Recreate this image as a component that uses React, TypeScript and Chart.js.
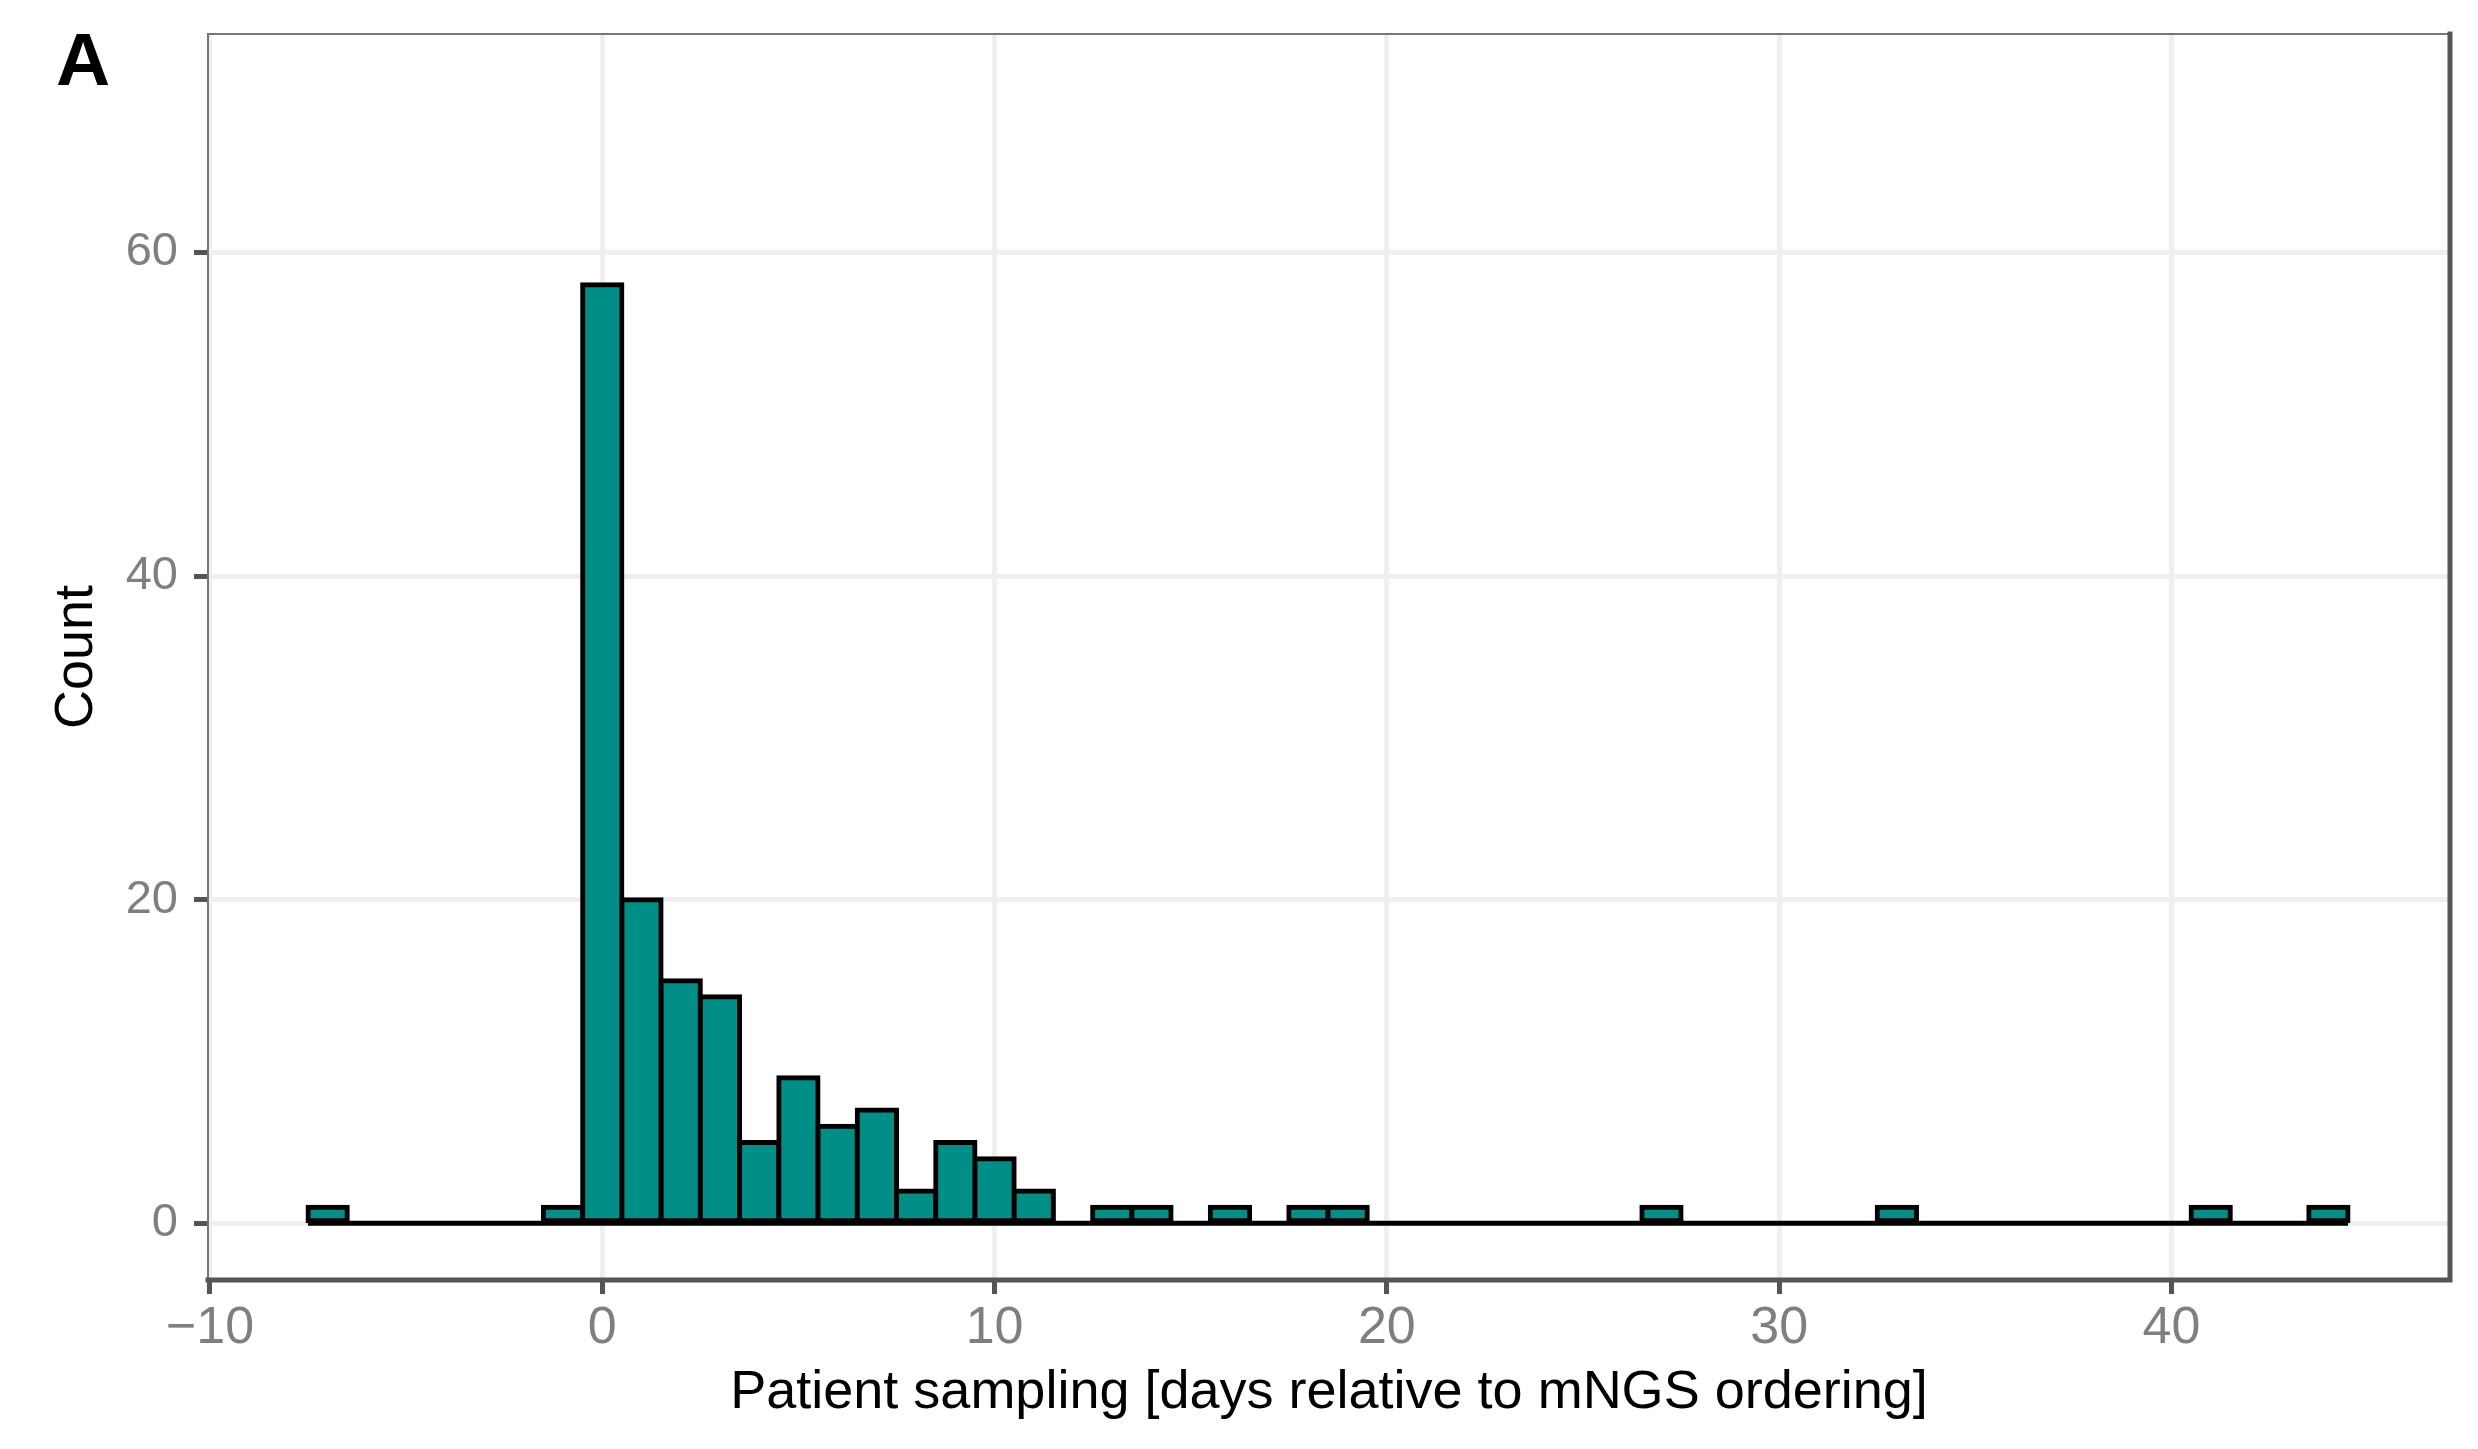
import React, { useEffect, useRef } from 'react';
import { Chart, registerables } from 'chart.js';

Chart.register(...registerables);

// Histogram bins (days relative to mNGS ordering), bin width 1 day
const binCenters = [
  -7, -6, -5, -4, -3, -2, -1, 0, 1, 2, 3, 4, 5, 6, 7, 8, 9, 10, 11, 12, 13, 14, 15, 16, 17, 18, 19,
  20, 21, 22, 23, 24, 25, 26, 27, 28, 29, 30, 31, 32, 33, 34, 35, 36, 37, 38, 39, 40, 41, 42, 43, 44,
];
const counts = [
  1, 0, 0, 0, 0, 0, 1, 58, 20, 15, 14, 5, 9, 6, 7, 2, 5, 4, 2, 0, 1, 1, 0, 1, 0, 1, 1,
  0, 0, 0, 0, 0, 0, 0, 1, 0, 0, 0, 0, 0, 1, 0, 0, 0, 0, 0, 0, 0, 1, 0, 0, 1,
];
const binWidth = 1;
const xTicks = [-10, 0, 10, 20, 30, 40];
const yTicks = [0, 20, 40, 60];
const xLimits = [-10.05, 47.1];
const yLimits = [-3.5, 73.5];

const xTitle = 'Patient sampling [days relative to mNGS ordering]';
const yTitle = 'Count';
const panelTag = 'A';

const FONT = '"Liberation Sans", Arial, Helvetica, sans-serif';
const W = 2478;
const H = 1449;
const PANEL_LEFT = 208;
const PANEL_RIGHT = 2450;
const PANEL_TOP = 34;
const PANEL_BOTTOM = 1280;
const FILL = '#008E87';
const OUTLINE = '#000000';

const panelPlugin = {
  id: 'panelDecor',
  afterDatasetsDraw(chart: any) {
    const { ctx, chartArea } = chart;
    const { left, right, top, bottom } = chartArea;
    ctx.save();
    // thin grey top / left border
    ctx.strokeStyle = '#777777';
    ctx.lineWidth = 2;
    ctx.beginPath();
    ctx.moveTo(left, bottom);
    ctx.lineTo(left, top);
    ctx.lineTo(right, top);
    ctx.stroke();
    // thick dark bottom / right border
    ctx.strokeStyle = '#555555';
    ctx.lineWidth = 5;
    ctx.lineCap = 'square';
    ctx.beginPath();
    ctx.moveTo(left, bottom);
    ctx.lineTo(right, bottom);
    ctx.lineTo(right, top);
    ctx.stroke();
    ctx.restore();
  },
  afterDraw(chart: any) {
    const { ctx } = chart;
    ctx.save();
    ctx.fillStyle = '#000000';
    ctx.font = `bold 75px ${FONT}`;
    ctx.textAlign = 'left';
    ctx.textBaseline = 'alphabetic';
    ctx.fillText(panelTag, 56, 85);
    ctx.restore();
  },
};

export default function App() {
  const canvasRef = useRef<HTMLCanvasElement | null>(null);

  useEffect(() => {
    const canvas = canvasRef.current;
    if (!canvas) return;
    const barData = binCenters.map((x, i) => ({ x, y: counts[i] }));
    const baseline = [
      { x: binCenters[0] - binWidth / 2, y: 0 },
      { x: binCenters[binCenters.length - 1] + binWidth / 2, y: 0 },
    ];
    const strokeW = 5;

    const chart = new Chart(canvas, {
      type: 'bar',
      data: {
        datasets: [
          {
            type: 'bar',
            data: barData as any,
            backgroundColor: (c: any) => (c.raw && c.raw.y === 0 ? OUTLINE : FILL),
            borderColor: OUTLINE,
            borderWidth: strokeW,
            borderSkipped: false,
            inflateAmount: strokeW / 2,
            barPercentage: 1,
            categoryPercentage: 1,
            order: 1,
          } as any,
          {
            type: 'line',
            data: baseline as any,
            borderColor: OUTLINE,
            borderWidth: strokeW,
            pointRadius: 0,
            fill: false,
            order: 2,
          } as any,
        ],
      },
      options: {
        responsive: false,
        maintainAspectRatio: false,
        devicePixelRatio: 1,
        animation: false,
        layout: {
          padding: { left: 0, right: W - PANEL_RIGHT, top: PANEL_TOP, bottom: 0 },
        },
        plugins: {
          legend: { display: false },
          tooltip: { enabled: false },
          title: { display: false },
        },
        scales: {
          x: {
            type: 'linear',
            min: xLimits[0],
            max: xLimits[1],
            offset: false,
            afterBuildTicks: (scale: any) => {
              scale.ticks = xTicks.map((v) => ({ value: v }));
            },
            afterFit: (scale: any) => {
              scale.height = H - PANEL_BOTTOM;
              scale.paddingLeft = 0;
              scale.paddingRight = 0;
            },
            border: { display: false },
            grid: {
              color: '#EFEFEF',
              lineWidth: 5,
              drawTicks: true,
              tickLength: 14,
              tickColor: '#555555',
              tickWidth: 5,
              offset: false,
            },
            ticks: {
              autoSkip: false,
              maxRotation: 0,
              minRotation: 0,
              padding: 3,
              color: '#7F7F7F',
              font: { family: FONT, size: 52 },
              callback: (v: any) => (Number(v) < 0 ? '\u2212' + Math.abs(Number(v)) : String(v)),
            },
            title: {
              display: true,
              text: xTitle,
              color: '#000000',
              font: { family: FONT, size: 54 },
              padding: { top: 0, bottom: 23 },
            },
          },
          y: {
            type: 'linear',
            min: yLimits[0],
            max: yLimits[1],
            afterBuildTicks: (scale: any) => {
              scale.ticks = yTicks.map((v) => ({ value: v }));
            },
            afterFit: (scale: any) => {
              scale.width = PANEL_LEFT;
              scale.paddingTop = 0;
              scale.paddingBottom = 0;
            },
            border: { display: false },
            grid: {
              color: '#EFEFEF',
              lineWidth: 5,
              drawTicks: true,
              tickLength: 14,
              tickColor: '#555555',
              tickWidth: 5,
            },
            ticks: {
              autoSkip: false,
              padding: 16,
              color: '#7F7F7F',
              font: { family: FONT, size: 47 },
              callback: (v: any) => String(v),
            },
            title: {
              display: true,
              text: yTitle,
              color: '#000000',
              font: { family: FONT, size: 54 },
              padding: { top: 45, bottom: 0 },
            },
          },
        },
      } as any,
      plugins: [panelPlugin],
    });

    return () => {
      chart.destroy();
    };
  }, []);

  return (
    <div
      style={{
        position: 'absolute',
        left: 0,
        top: 0,
        width: W,
        height: H,
        background: '#ffffff',
      }}
    >
      <canvas ref={canvasRef} width={W} height={H} style={{ width: W, height: H, display: 'block' }} />
    </div>
  );
}
